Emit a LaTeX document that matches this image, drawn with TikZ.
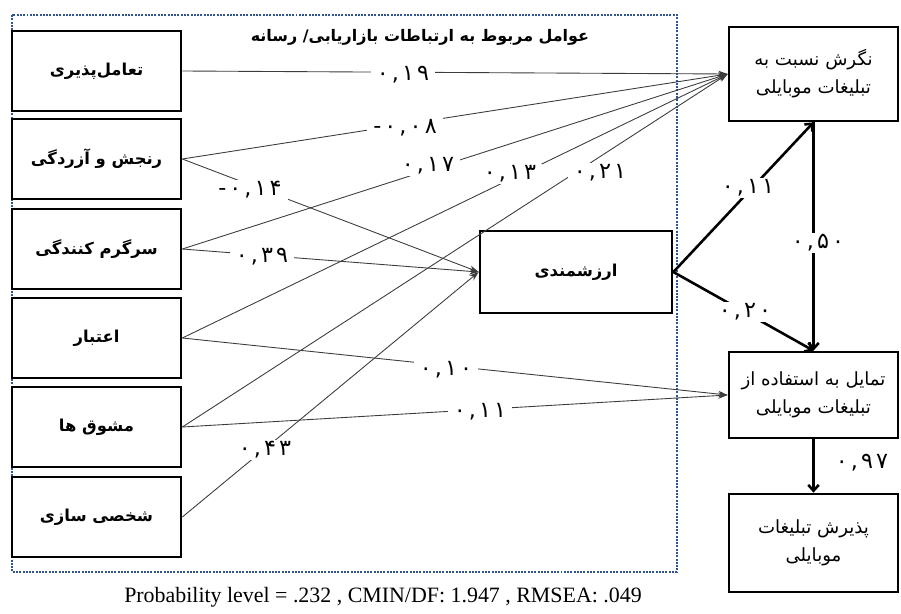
\documentclass[tikz,border=0pt]{standalone}
\usepackage{fontspec}
\setmainfont{Liberation Serif}
\TeXXeTstate=1
\newfontfamily\fa[Script=Arabic]{DejaVu Sans}
\newfontfamily\num[LetterSpace=14]{DejaVu Sans}
\usetikzlibrary{arrows.meta}
\definecolor{framec}{RGB}{46,84,150}
\definecolor{linec}{RGB}{60,60,60}
\begin{document}
\begin{tikzpicture}[x=0.03cm,y=-0.03cm,
  lbox/.style={draw, fill=white, line width=2.3pt, minimum width=5.07cm, minimum height=2.4cm, inner sep=0pt, font=\fa\bfseries\fontsize{14}{17}\selectfont},
  rbox/.style={draw, fill=white, line width=2.3pt, minimum width=5.07cm, inner sep=0pt, align=center, font=\fa\fontsize{15.5}{24}\selectfont},
  thinarr/.style={draw=linec, line width=0.75pt, -{Stealth[length=8pt,width=5.5pt]}},
  thickarr/.style={line width=2.2pt, -{Straight Barb[length=5pt,width=9pt]}},
  lbl/.style={fill=white, inner xsep=5pt, inner ysep=1.5pt, font=\num\fontsize{19}{20}\selectfont},
  frame/.style={draw=framec, line width=1.7pt, dash pattern=on 1.7pt off 1.1pt}
]
\useasboundingbox (0,0) rectangle (901,613);
\draw[frame] (12,15) rectangle (677,572);

% left boxes
\node[lbox] (b1) at (96.5,71)  {\beginR تعامل‌پذیری\endR};
\node[lbox] (b2) at (96.5,159) {\beginR رنجش و آزردگی\endR};
\node[lbox] (b3) at (96.5,249) {\beginR سرگرم کنندگی\endR};
\node[lbox] (b4) at (96.5,338) {\beginR اعتبار\endR};
\node[lbox] (b5) at (96.5,427) {\beginR مشوق ها\endR};
\node[lbox] (b6) at (96.5,517) {\beginR شخصی سازی\endR};

% middle box
\node[lbox, minimum width=5.76cm, minimum height=2.46cm] (arz) at (576,272) {\beginR ارزشمندی\endR};

% right boxes
\node[rbox, minimum height=2.82cm] (ng) at (813.5,74) {\beginR نگرش نسبت به\endR\\\beginR تبلیغات موبایلی\endR};
\node[rbox, minimum height=2.58cm] (tam) at (813.5,395) {\beginR تمایل به استفاده از\endR\\\beginR تبلیغات موبایلی\endR};
\node[rbox, minimum height=2.94cm] (paz) at (813.5,543) {\beginR پذیرش تبلیغات\endR\\\beginR موبایلی\endR};

% title
\node[font=\fa\bfseries\fontsize{13.6}{16}\selectfont] (title) at (420,37) {\beginR عوامل مربوط به ارتباطات بازاریابی/ رسانه\endR};

% thin connectors
\draw[thinarr] (b1.east) -- (ng.west);
\draw[thinarr] (b2.east) -- (ng.west);
\draw[thinarr] (b3.east) -- (ng.west);
\draw[thinarr] (b4.east) -- (ng.west);
\draw[thinarr] (b5.east) -- (ng.west);
\draw[thinarr] (b2.east) -- (arz.west);
\draw[thinarr] (b3.east) -- (arz.west);
\draw[thinarr] (b6.east) -- (arz.west);
\draw[thinarr] (b4.east) -- (tam.west);
\draw[thinarr] (b5.east) -- (tam.west);

% thick connectors
\draw[thickarr] (arz.east) -- (ng.south);
\draw[thickarr] (arz.east) -- (tam.north);
\draw[thickarr] (ng.south) -- (tam.north);
\draw[thickarr] (tam.south) -- (paz.north);

% labels
\node[lbl] (l19) at (403,75) {۰,۱۹};
\node[lbl] (l08) at (405,128) {-۰,۰۸};
\node[lbl] (l14) at (250,190) {-۰,۱۴};
\node[lbl] (l17) at (428,166) {۰,۱۷};
\node[lbl] (l39) at (262,257) {۰,۳۹};
\node[lbl] (l13) at (510,174) {۰,۱۳};
\node[lbl] (l21) at (600,173) {۰,۲۱};
\node[lbl] (l10) at (446,370) {۰,۱۰};
\node[lbl] (l11a) at (480,412) {۰,۱۱};
\node[lbl] (l43) at (265,450) {۰,۴۳};
\node[lbl] (t11) at (748,188) {۰,۱۱};
\node[lbl] (t20) at (745,312) {۰,۲۰};
\node[lbl] (t50) at (818,243) {۰,۵۰};
\node[lbl, fill=none] (t97) at (862,463) {۰,۹۷};

% footer
\node[font=\fontsize{18.7}{22}\selectfont] (foot) at (383,597) {Probability level = .232 , CMIN/DF: 1.947 , RMSEA: .049};
\end{tikzpicture}
\end{document}
